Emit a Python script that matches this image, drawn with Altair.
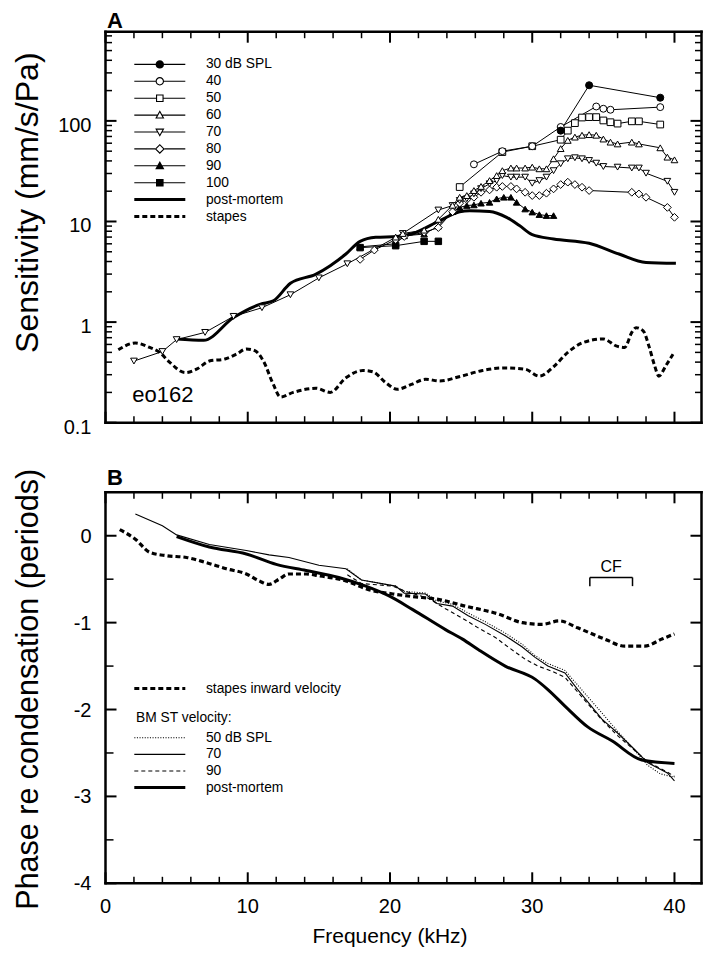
import math
import altair as alt
import pandas as pd

FONT = "Liberation Sans"

# ---------------- Panel A : BM sensitivity (mm/s/Pa) vs frequency (kHz) ----------------
a30_f = [32.0, 34.0, 39.0]
a30_v = [80, 226, 170]
a40_f = [25.9, 27.9, 30.0, 32.0, 34.5, 35.0, 35.5, 39.0]
a40_v = [37, 50, 56, 87, 139, 132, 129, 137]
a50_f = [24.9, 27.9, 30.0, 32.0, 32.5, 33.0, 33.5, 34.0, 34.5, 35.0, 35.5, 36.0, 37.0, 37.5, 39.0]
a50_v = [22, 49, 56, 65, 80, 95, 108, 109, 109, 101, 97, 94, 99, 99, 92]
a60_f = [20.4, 20.9, 22.4, 23.4, 24.4, 24.9, 25.4, 25.9, 26.4, 27.0, 27.5, 27.9, 28.5, 28.9, 29.5,
         30.0, 30.5, 31.0, 31.5, 32.0, 32.5, 33.0, 33.5, 34.0, 34.5, 35.0, 35.5, 36.0, 37.0, 37.5,
         39.0, 39.5, 40.0]
a60_v = [7.0, 7.6, 8.2, 10.5, 14.5, 17.4, 18.1, 20.3, 22.3, 25.5, 28.6, 32, 34, 34, 34,
         34.7, 33.4, 33.4, 42, 53, 64, 69, 72, 73, 72, 66, 61.5, 59, 61.5, 59,
         54, 43.6, 41]
a70_f = [2, 4, 5, 7, 9, 11, 13, 15, 17, 20.9, 23.4, 24.4, 24.9, 25.4, 25.9, 26.4, 27.0, 27.5,
         27.9, 28.5, 28.9, 29.5, 30.0, 30.5, 31.0, 31.5, 32.0, 32.5, 33.0, 33.5, 34.0, 34.5,
         35.0, 36.0, 37.0, 37.5, 38.0, 39.5, 40.0]
a70_v = [0.41, 0.51, 0.67, 0.79, 1.14, 1.39, 1.87, 2.75, 3.8, 7.6, 13.0, 14.4, 16.2, 16.8, 18.8,
         21.2, 23.7, 25.5, 28.6, 27.6, 27.6, 27.6, 24, 25.5, 27.6, 32, 37.5, 42, 43, 42, 40.4,
         38, 35.2, 34.7, 34, 34, 30.2, 25.1, 19.5]
a80_f = [17.9, 18.9, 20.4, 21.0, 22.4, 23.4, 24.4, 24.9, 25.4, 25.9, 26.4, 27.0, 27.5, 27.9, 28.5,
         28.9, 29.5, 30.0, 30.5, 31.0, 31.5, 32.0, 32.5, 33.0, 33.5, 34.0, 37.0, 37.5, 38.0,
         39.5, 40.0]
a80_v = [4.2, 5.2, 6.6, 7.1, 7.8, 8.7, 12.5, 15.2, 16.5, 17.4, 19.5, 20.6, 21.9, 22.3, 22.3,
         21.1, 19.5, 18.1, 18.1, 19.1, 21.1, 23.3, 24.6, 23.3, 21.9, 20.3, 19.5, 18.8, 17.4,
         13.8, 11.0]
a90_f = [17.9, 20.4, 21.0, 22.4, 23.4, 24.4, 24.9, 25.4, 25.9, 26.4, 27.0, 27.5, 28.0, 28.5,
         28.9, 29.5, 30.0, 30.5, 31.0, 31.5]
a90_v = [5.6, 6.0, 7.2, 7.5, 9.0, 12.5, 13.8, 14.4, 14.6, 15.2, 15.5, 16.8, 17.4, 17.4,
         15.5, 13.3, 12.4, 11.7, 11.45, 11.45]
a100_f = [17.9, 20.4, 22.4, 23.4]
a100_v = [5.5, 5.75, 6.35, 6.35]
apm_f = [5.0, 6.9, 9.0, 10.9, 11.8, 13.0, 14.8, 15.8, 16.9, 17.9, 19.0, 20.5, 21.6, 23.5, 24.9,
         25.6, 27.0, 28.2, 29.1, 30.0, 31.5, 34.0, 36.1, 38.0, 40.1]
apm_v = [0.68, 0.66, 1.11, 1.51, 1.63, 2.43, 3.0, 3.64, 4.75, 6.35, 6.96, 7.1, 7.6, 10.2, 12.5,
         12.8, 12.6, 11.0, 9.1, 7.4, 6.7, 6.07, 4.75, 3.92, 3.84]
ast_f = [0.9, 2.1, 3.1, 3.8, 4.5, 5.6, 6.4, 7.3, 8.4, 9.2, 9.9, 10.5, 11.1, 11.8, 12.3, 13.2,
         14.8, 15.8, 16.9, 18.1, 18.8, 19.7, 20.5, 21.5, 22.5, 23.5, 25.0, 26.5, 28.0, 29.5,
         30.5, 31.5, 32.5, 33.5, 35.0, 35.9, 36.5, 37.0, 37.3, 37.8, 38.2, 38.6, 38.9, 39.4, 39.9]
ast_v = [0.53, 0.62, 0.56, 0.50, 0.40, 0.315, 0.34, 0.41, 0.43, 0.48, 0.54, 0.52, 0.41, 0.24,
         0.18, 0.20, 0.22, 0.20, 0.28, 0.33, 0.32, 0.25, 0.215, 0.24, 0.27, 0.26, 0.29, 0.33,
         0.35, 0.34, 0.29, 0.36, 0.50, 0.62, 0.68, 0.58, 0.56, 0.79, 0.88, 0.82, 0.58, 0.37,
         0.29, 0.37, 0.48]

# ---------------- Panel B : phase re condensation (periods) ----------------
bst_f = [1.0, 2.1, 3.1, 4.3, 5.7, 7.1, 8.5, 9.9, 10.8, 11.5, 12.2, 12.9, 14.1, 15.0, 16.9, 18.5,
         20.2, 21.6, 23.3, 25.3, 27.6, 29.3, 30.7, 31.9, 33.2, 35.1, 36.5, 37.9, 39.1, 40.0]
bst_v = [0.07, -0.04, -0.19, -0.23, -0.25, -0.31, -0.38, -0.44, -0.52, -0.56, -0.50, -0.44,
         -0.44, -0.46, -0.52, -0.62, -0.67, -0.70, -0.73, -0.81, -0.90, -1.0, -1.02, -0.98,
         -1.06, -1.19, -1.27, -1.27, -1.19, -1.13]
bpm_f = [5.0, 7.3, 9.9, 12.0, 14.1, 16.4, 18.3, 19.9, 21.6, 23.9, 25.1, 26.2, 28.1, 30.2, 31.1,
         32.3, 33.9, 35.6, 37.7, 40.0]
bpm_v = [-0.01, -0.13, -0.21, -0.33, -0.40, -0.48, -0.58, -0.69, -0.85, -1.08, -1.19, -1.31,
         -1.50, -1.65, -1.77, -1.96, -2.20, -2.36, -2.58, -2.62]
b70_f = [2.1, 4.0, 5.0, 7.3, 9.9, 11.5, 12.9, 15.0, 16.9, 18.0, 20.4, 21.0, 22.5, 23.3, 24.4,
         25.5, 26.7, 28.1, 29.3, 30.2, 31.1, 32.3, 33.2, 34.9, 36.0, 37.2, 38.1, 39.5, 40.0]
b70_v = [0.25, 0.115, 0.01, -0.10, -0.17, -0.22, -0.25, -0.34, -0.38, -0.51, -0.58, -0.66, -0.67,
         -0.78, -0.81, -0.92, -1.02, -1.15, -1.28, -1.40, -1.50, -1.58, -1.77, -2.11, -2.27,
         -2.46, -2.61, -2.73, -2.82]
b50_f = [17.0, 18.0, 20.4, 21.0, 22.5, 23.3, 24.4, 25.5, 26.7, 28.1, 29.3, 30.2, 31.1, 32.3, 33.2,
         34.9, 36.0, 37.2, 38.1, 39.0, 40.0]
b50_v = [-0.38, -0.51, -0.58, -0.64, -0.66, -0.75, -0.79, -0.89, -0.99, -1.12, -1.25, -1.38,
         -1.47, -1.55, -1.72, -2.04, -2.25, -2.47, -2.64, -2.74, -2.78]
b90_f = [17.0, 18.0, 20.2, 21.1, 22.7, 23.9, 25.1, 26.2, 27.4, 28.3, 29.5, 30.4, 31.4, 32.3, 33.2,
         34.9, 36.0, 37.2, 38.1, 39.5, 40.0]
b90_v = [-0.45, -0.55, -0.58, -0.64, -0.72, -0.84, -0.95, -1.06, -1.17, -1.28, -1.42, -1.50,
         -1.56, -1.63, -1.80, -2.12, -2.30, -2.47, -2.60, -2.72, -2.77]

# annotations
a_tag = ["eo162"]
a_tag_f = [1.88]
a_tag_v = [0.162]
cf_text = ["CF"]
cf_f = [35.55]
cf_v = [-0.42]
cf_lo, cf_hi = 34.05, 37.05
cf_top, cf_bot = -0.48, -0.58

# titles
panel_A = ["A"]
panel_B = ["B"]
titleA_y = ["Sensitivity (mm/s/Pa)"]
titleB_y = ["Phase re condensation (periods)"]
title_x = ["Frequency (kHz)"]

# legends
legA_names = ["30 dB SPL", "40", "50", "60", "70", "80", "90", "100", "post-mortem", "stapes"]
legB1_names = ["stapes inward velocity"]
legB2_names = ["50 dB SPL", "70", "90", "post-mortem"]

# axis ticks and tick labels
x_major = [0, 10, 20, 30, 40]
x_major_lab = ["0", "10", "20", "30", "40"]
x_minor = [2, 4, 6, 8, 12, 14, 16, 18, 22, 24, 26, 28, 32, 34, 36, 38]
yA_major = [0.1, 1, 10, 100]
yA_major_lab = ["0.1", "1", "10", "100"]
yA_minor = [0.2, 0.3, 0.4, 0.5, 0.6, 0.7, 0.8, 0.9, 2, 3, 4, 5, 6, 7, 8, 9,
            20, 30, 40, 50, 60, 70, 80, 90, 200, 300, 400, 500, 600, 700]
yB_major = [-4, -3, -2, -1, 0]
yB_major_lab = ["-4", "-3", "-2", "-1", "0"]
yB_minor = [-3.5, -2.5, -1.5, -0.5]

# plot-box limits (the frame of each panel)
X_LIM = (0.0, 41.9)
YA_LIM = (0.1, 770.0)
YB_LIM = (-4.0, 0.5)

# ---------------- layout (pixels, inside each view) ----------------
VW = 697            # view width (both panels)
X0, W = 97.5, 596   # plot box left and width
VHA, Y0A, HA = 430, 23.7, 391   # panel A view height, plot top, plot height
VHB, Y0B, HB = 510, 54.3, 391   # panel B view height, plot top, plot height
MAJ, MIN = 11, 6.5

# scale domains are extended so that the plot box lands on the frame inside the view
_ppk = W / (X_LIM[1] - X_LIM[0])
xs = alt.Scale(domain=[X_LIM[0] - X0 / _ppk, X_LIM[1] + (VW - X0 - W) / _ppk],
               nice=False, zero=False)
_dec = HA / math.log10(YA_LIM[1] / YA_LIM[0])
ysA = alt.Scale(type="log", nice=False,
                domain=[YA_LIM[0] / 10 ** ((VHA - Y0A - HA) / _dec), YA_LIM[1] * 10 ** (Y0A / _dec)])
_ppu = HB / (YB_LIM[1] - YB_LIM[0])
ysB = alt.Scale(nice=False, zero=False,
                domain=[YB_LIM[0] - (VHB - Y0B - HB) / _ppu, YB_LIM[1] + Y0B / _ppu])
YS = {"A": ysA, "B": ysB}
Y0 = {"A": Y0A, "B": Y0B}
HH = {"A": HA, "B": HB}
YLIM = {"A": YA_LIM, "B": YB_LIM}


def y_step(p, v, px):
    """Move a y data value by px pixels upward on panel p's scale."""
    if p == "A":
        return v * 10 ** (px / _dec)
    return v + px / _ppu


THICK_DASH = [5, 3]


def df(f, v):
    return pd.DataFrame({"f": f, "v": v})


def X(field="f"):
    return alt.X(f"{field}:Q", scale=xs, axis=None)


def Y(p, field="v"):
    return alt.Y(f"{field}:Q", scale=YS[p], axis=None)


def enc(p):
    return dict(x=X(), y=Y(p))


def line(p, f, v, width=1.0, dash=None, interp="linear"):
    mk = dict(color="black", strokeWidth=width, interpolate=interp)
    if dash:
        mk["strokeDash"] = dash
    return alt.Chart(df(f, v)).mark_line(**mk).encode(**enc(p))


def points(p, f, v, shape, filled, size):
    return alt.Chart(df(f, v)).mark_point(
        shape=shape, filled=True, fill="black" if filled else "white", stroke="black",
        strokeWidth=1, size=size, opacity=1).encode(**enc(p))


def txt(size, align, baseline, **kw):
    return dict(font=FONT, fontSize=size, color="black", align=align, baseline=baseline, **kw)


def frame_and_ticks(p, ymaj, ymin, ymin_len):
    """Inward-pointing ticks on all four sides plus the plot frame, all through the scales."""
    lo, hi = YLIM[p]
    xl, xh = X_LIM
    out = []
    for vals, L, w in ((x_major, MAJ, 2), (x_minor, MIN, 1.5)):
        d = pd.DataFrame({"f": vals * 2,
                          "v": [lo] * len(vals) + [hi] * len(vals),
                          "v2": [y_step(p, lo, L)] * len(vals) + [y_step(p, hi, -L)] * len(vals)})
        out.append(alt.Chart(d).mark_rule(color="black", strokeWidth=w).encode(
            x=X(), y=Y(p), y2=alt.Y2("v2:Q")))
    for vals, L, w in ((ymaj, MAJ, 2), (ymin, ymin_len, 1.5)):
        d = pd.DataFrame({"v": vals * 2,
                          "f": [xl] * len(vals) + [xh] * len(vals),
                          "f2": [xl + L / _ppk] * len(vals) + [xh - L / _ppk] * len(vals)})
        out.append(alt.Chart(d).mark_rule(color="black", strokeWidth=w).encode(
            x=X(), x2=alt.X2("f2:Q"), y=Y(p)))
    # frame: two horizontal and two vertical edges
    fh = pd.DataFrame({"f": [xl, xl], "f2": [xh, xh], "v": [lo, hi]})
    fv = pd.DataFrame({"f": [xl, xh], "v": [lo, lo], "v2": [hi, hi]})
    out.append(alt.Chart(fh).mark_rule(color="black", strokeWidth=2.5, strokeCap="square").encode(
        x=X(), x2=alt.X2("f2:Q"), y=Y(p)))
    out.append(alt.Chart(fv).mark_rule(color="black", strokeWidth=2.5, strokeCap="square").encode(
        x=X(), y=Y(p), y2=alt.Y2("v2:Q")))
    return out


def y_labels(p, vals, labs, dy):
    return alt.Chart(pd.DataFrame({"v": vals, "t": labs})).mark_text(
        **txt(20, "right", "middle", dy=dy)).encode(y=Y(p), x=alt.value(X0 - 14), text="t:N")


def x_labels(p, vals, labs):
    return alt.Chart(pd.DataFrame({"f": vals, "t": labs})).mark_text(
        **txt(20, "center", "top")).encode(x=X(), y=alt.value(Y0[p] + HH[p] + 14), text="t:N")


def title_text(t, size, x, y, angle=None, align="center", weight="normal"):
    kw = {"angle": angle} if angle is not None else {}
    return alt.Chart(pd.DataFrame({"t": t})).mark_text(
        **txt(size, align, "alphabetic", fontWeight=weight, **kw)).encode(
        x=alt.value(x), y=alt.value(y), text="t:N")


# ---- legend symbols: filled-only SVG paths (symbolSize 64 -> 4 px per path unit) ----
U = 4.0
HALF = 25.5
TH = 1.1  # outline thickness in px


def P(x):
    return f"{x / U:.3f}"


def bar(x0, x1, h):
    return f"M{P(x0)},{P(-h)}H{P(x1)}V{P(h)}H{P(x0)}Z"


def dashes(on, off, h):
    out, x = "", -HALF
    while x < HALF - 0.01:
        out += bar(x, min(x + on, HALF), h)
        x += on + off
    return out


def poly(pts):
    return "M" + "L".join(f"{P(x)},{P(y)}" for x, y in pts) + "Z"


def stubs(e):
    return bar(-HALF, -e, TH / 2) + bar(e, HALF, TH / 2)


def circ(R, r=None):
    s = f"M{P(R)},0A{P(R)},{P(R)} 0 1,1 {P(-R)},0A{P(R)},{P(R)} 0 1,1 {P(R)},0Z"
    if r:
        s += f"M{P(r)},0A{P(r)},{P(r)} 0 1,0 {P(-r)},0A{P(r)},{P(r)} 0 1,0 {P(r)},0Z"
    return s


def sym_circle(filled, R=4.2):
    return stubs(R - 0.3) + circ(R, None if filled else R - TH)


def sym_square(filled, s=3.8):
    out = stubs(s - 0.3) + poly([(-s, -s), (s, -s), (s, s), (-s, s)])
    if not filled:
        i = s - TH
        out += poly([(-i, -i), (-i, i), (i, i), (i, -i)])
    return out


def sym_triangle(up, filled, t=4.8, b=3.4, w=4.6):
    sg = 1 if up else -1
    A, B, C = (0, -sg * t), (w, sg * b), (-w, sg * b)
    e = w * t / (t + b)
    out = stubs(e - 0.3)
    outer = [A, B, C] if up else [A, C, B]
    out += poly(outer)
    if not filled:
        L = math.hypot(w, t + b)
        rho = w * (t + b) / (w + L)
        I = (0, sg * (b - rho))
        k = (rho - TH) / rho
        inner = [(I[0] + k * (p[0] - I[0]), I[1] + k * (p[1] - I[1])) for p in outer]
        out += poly(inner[::-1])
    return out


def sym_diamond(filled, d=5.0):
    out = stubs(d - 0.3) + poly([(0, -d), (d, 0), (0, d), (-d, 0)])
    if not filled:
        i = d - TH * math.sqrt(2)
        out += poly([(0, -i), (-i, 0), (0, i), (i, 0)])
    return out


SOLID_THICK = bar(-HALF, HALF, 1.5)
DASH_THICK = dashes(5, 3, 1.6)
SOLID_THIN = bar(-HALF, HALF, 0.55)
DOTTED_THIN = dashes(1.1, 1.5, 0.55)
DASHED_THIN = dashes(4, 3, 0.55)

legA_paths = [sym_circle(True), sym_circle(False), sym_square(False), sym_triangle(True, False),
              sym_triangle(False, False), sym_diamond(False), sym_triangle(True, True),
              sym_square(True), SOLID_THICK, DASH_THICK]
legB1_paths = [DASH_THICK]
legB2_paths = [DOTTED_THIN, SOLID_THIN, DASHED_THIN, SOLID_THICK]

SYM_OFF = 16.9
LAB_OFF = 39.2


def legend(x, y, row_pad, title=None, **kw):
    spec = dict(orient="none", legendX=x, legendY=y, padding=0, labelFont=FONT,
                labelFontSize=13.8, labelColor="black", labelLimit=0, labelOffset=LAB_OFF,
                symbolSize=64, symbolOffset=SYM_OFF, symbolStrokeWidth=0,
                symbolFillColor="black", symbolOpacity=1, rowPadding=row_pad, title=title)
    spec.update(kw)
    return alt.Legend(**spec)


def legend_layer(names, paths, lg):
    empty = pd.DataFrame({"s": pd.Series([], dtype="object")})
    return alt.Chart(empty).mark_point(filled=True, color="black", opacity=1).encode(
        shape=alt.Shape("s:N", scale=alt.Scale(domain=names, range=paths), legend=lg))


def text_layer(p, f, v, t, size, align):
    return alt.Chart(pd.DataFrame({"f": f, "v": v, "t": t})).mark_text(
        **txt(size, align, "alphabetic")).encode(text="t:N", **enc(p))


# ---------------- Panel A ----------------
layersA = [
    line("A", ast_f, ast_v, 3, THICK_DASH, "monotone"),
    line("A", apm_f, apm_v, 3, None, "monotone"),
    line("A", a100_f, a100_v, 1),
    line("A", a90_f, a90_v, 1),
    line("A", a80_f, a80_v, 1),
    line("A", a70_f, a70_v, 1),
    line("A", a60_f, a60_v, 1),
    line("A", a50_f, a50_v, 1),
    line("A", a40_f, a40_v, 1),
    line("A", a30_f, a30_v, 1),
    points("A", a100_f, a100_v, "square", True, 42),
    points("A", a90_f, a90_v, "triangle-up", True, 42),
    points("A", a80_f, a80_v, "diamond", False, 60),
    points("A", a70_f, a70_v, "triangle-down", False, 45),
    points("A", a60_f, a60_v, "triangle-up", False, 45),
    points("A", a50_f, a50_v, "square", False, 45),
    points("A", a40_f, a40_v, "circle", False, 48),
    points("A", a30_f, a30_v, "circle", True, 50),
    text_layer("A", a_tag_f, a_tag_v, a_tag, 22, "left"),
    y_labels("A", yA_major, yA_major_lab, 5),
    title_text(titleA_y, 32, X0 - 68, Y0A + 171, 270),
    title_text(panel_A, 22, X0 + 1.5, 20, align="left", weight="bold"),
] + frame_and_ticks("A", yA_major, yA_minor, MIN) + [
    legend_layer(legA_names, legA_paths, legend(X0 + 30.5, Y0A + 25.8, 1.9)),
]

panelA = alt.layer(*layersA).properties(width=VW, height=VHA)

# ---------------- Panel B ----------------
legB1 = legend(X0 + 30.5, Y0B + 189.3, 1.6)
legB2 = legend(X0 + 30.5, Y0B + 218.7, 1.6, title="BM ST velocity:", titleFont=FONT,
               titleFontSize=13.8, titleFontWeight="normal", titleColor="black",
               titlePadding=6.1, titleLimit=0)

layersB = [
    line("B", bst_f, bst_v, 3.2, THICK_DASH, "monotone"),
    line("B", bpm_f, bpm_v, 3, None, "monotone"),
    line("B", b70_f, b70_v, 1.1, None, "linear"),
    line("B", b50_f, b50_v, 1.1, [1, 1.6], "linear"),
    line("B", b90_f, b90_v, 1.1, [4, 3], "linear"),
    text_layer("B", cf_f, cf_v, cf_text, 16, "center"),
    alt.Chart(pd.DataFrame({"f": [cf_lo], "f2": [cf_hi], "v": [cf_top]})).mark_rule(
        color="black", strokeWidth=1.5).encode(x2="f2:Q", **enc("B")),
    alt.Chart(pd.DataFrame({"f": [cf_lo, cf_hi], "v": [cf_top, cf_top], "v2": [cf_bot, cf_bot]})).mark_rule(
        color="black", strokeWidth=1.5).encode(y2="v2:Q", **enc("B")),
    y_labels("B", yB_major, yB_major_lab, 1),
    x_labels("B", x_major, x_major_lab),
    title_text(titleB_y, 30.5, X0 - 68, Y0B + 197, 270),
    title_text(title_x, 21, X0 + 284.5, Y0B + HB + 59.7),
    title_text(panel_B, 22, X0 + 1.5, Y0B - 7.3, align="left", weight="bold"),
] + frame_and_ticks("B", yB_major, yB_minor, MIN + 1.5) + [
    legend_layer(legB1_names, legB1_paths, legB1),
    legend_layer(legB2_names, legB2_paths, legB2),
]

panelB = alt.layer(*layersB).resolve_scale(shape="independent").properties(width=VW, height=VHB)

chart = alt.vconcat(panelA, panelB, spacing=0).resolve_scale(shape="independent").properties(
    padding={"left": 0, "top": 0, "right": 0, "bottom": 0}
).configure_view(stroke="transparent", strokeWidth=0)

chart.save("out.html", embed_options={"renderer": "svg", "actions": False})
